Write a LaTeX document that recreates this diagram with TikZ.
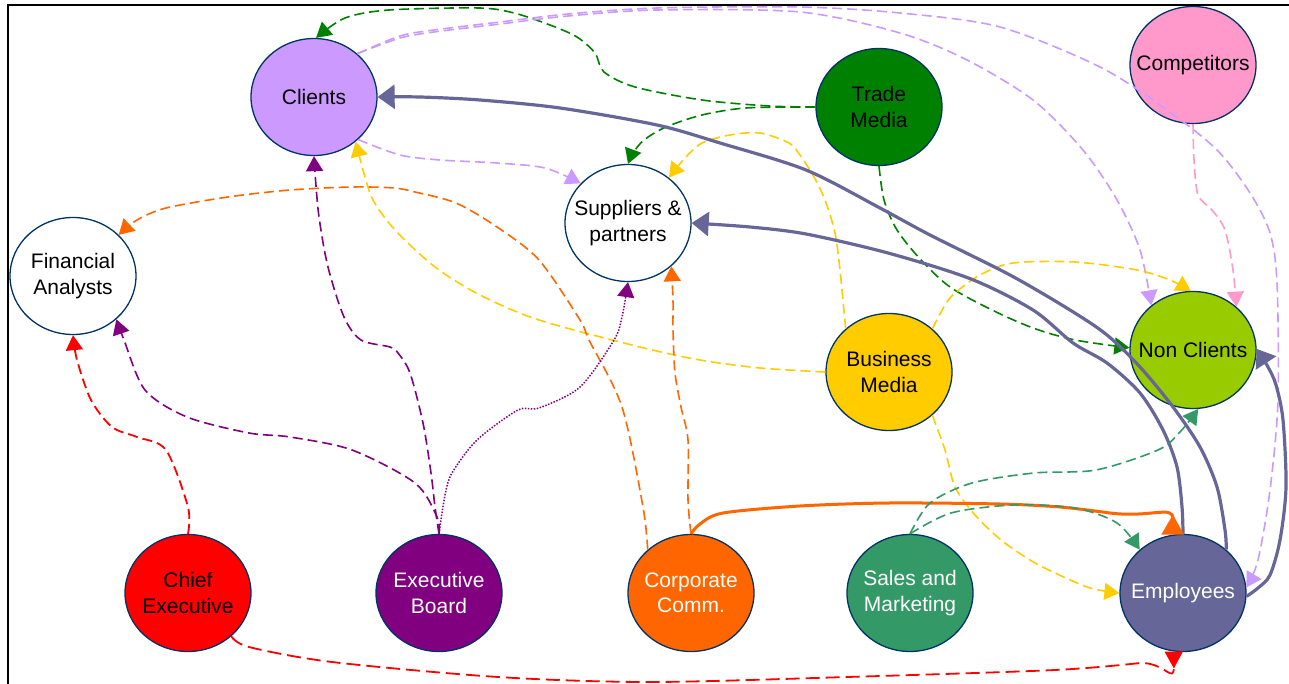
\documentclass[tikz,border=0pt]{standalone}
\usepackage{fontspec}
\setmainfont{Liberation Sans}
\usetikzlibrary{shapes.geometric,arrows.meta}
\definecolor{bordc}{RGB}{0,51,102}
\definecolor{lav}{HTML}{CC99FF}
\definecolor{pinkc}{HTML}{FF99CC}
\definecolor{tmg}{HTML}{008000}
\definecolor{ncg}{HTML}{99CC00}
\definecolor{yel}{HTML}{FFCC00}
\definecolor{navyc}{HTML}{666699}
\definecolor{sea}{HTML}{339966}
\definecolor{orng}{HTML}{FF6600}
\definecolor{purp}{HTML}{800080}
\definecolor{redc}{HTML}{FF0000}
\begin{document}
\begin{tikzpicture}[x=1pt,y=-1pt,
  party/.style={ellipse, draw=bordc, line width=1.3pt, minimum width=126pt, minimum height=117pt, inner xsep=-16pt, inner ysep=0pt, align=center, font=\fontsize{21}{25.5}\selectfont},
  dsh/.style={line width=1.6pt, dash pattern=on 10pt off 5pt, line join=round, -{Triangle[length=15pt,width=17pt]}},
  dotl/.style={line width=1.5pt, dash pattern=on 1.5pt off 1.5pt, -{Triangle[length=15pt,width=17pt]}},
  sol/.style={line width=3.2pt, line join=round, -{Triangle[length=17pt,width=24pt]}},
  solrev/.style={line width=3pt, line join=round, -{Triangle[reversed,length=20pt,width=22pt]}},
  dshrev/.style={line width=1.8pt, dash pattern=on 14pt off 6pt, line join=round, -{Triangle[reversed,length=17pt,width=18pt]}},
  frame/.style={line width=2.2pt, black}
]
\useasboundingbox (0,0) rectangle (1289,684);
\draw[frame] (8,684) -- (8,5) -- (1289,5);

\node[party, fill=lav] (cl) at (314,97) {Clients};
\node[party, fill=white] (fa) at (73,276) {Financial\\Analysts};
\node[party, fill=white] (sp) at (628,223) {Suppliers \&\\partners};
\node[party, fill=tmg] (tm) at (879,107) {Trade\\Media};
\node[party, fill=pinkc] (co) at (1193,65) {Competitors};
\node[party, fill=ncg] (nc) at (1193,350) {Non Clients};
\node[party, fill=yel] (bm) at (889,372) {Business\\Media};
\node[party, fill=navyc, text=white] (em) at (1183,593) {Employees};
\node[party, fill=sea, text=white] (sm) at (910,593) {Sales and\\Marketing};
\node[party, fill=orng, text=white] (cc) at (691,593) {Corporate\\Comm.};
\node[party, fill=purp, text=white] (eb) at (439,593) {Executive\\Board};
\node[party, fill=redc] (ce) at (188,593) {Chief\\Executive};

% Trade Media
\draw[dsh, tmg] plot[smooth] coordinates {(tm.west) (769,106) (702,100) (635,87) (604,72) (595,53) (577,37) (550,25) (514,13) (479,8) (389,10) (345,18) (cl.88)};
\draw[dsh, tmg] plot[smooth] coordinates {(tm.west) (746,108) (702,115) (666,127) (644,140) (633,153) (sp.90)};
\draw[dsh, tmg] plot[smooth] coordinates {(tm.south) (884,200) (897,230) (921,260) (950,287) (992,310) (1033,328) (1075,340) (nc.178)};

% Clients
\draw[dsh, lav] plot[smooth] coordinates {(cl.-44) (400,155) (440,160) (497,163) (545,168) (sp.140)};
\draw[dsh, lav] plot[smooth] coordinates {(cl.45) (400,38) (434,32) (500,24) (568,16) (657,10) (800,12) (900,33) (967,60) (1033,100) (1083,150) (1117,200) (1140,250) (nc.133)};
\draw[dsh, lav] plot[smooth] coordinates {(cl.45) (400,36) (434,30) (500,22) (568,14) (657,8) (800,7) (900,13) (1000,27) (1100,67) (1167,110) (1217,150) (1250,193) (1270,233) (1277,283) (1278,400) (1270,490) (1258,560) (em.5)};

% Competitors
\draw[dsh, pinkc] plot[smooth] coordinates {(co.south) (1194,160) (1198,195) (1212,210) (1225,230) (1233,270) (nc.45)};

% Business Media
\draw[dsh, yel] plot[smooth] coordinates {(bm.west) (760,368) (700,360) (640,347) (539,320) (480,295) (435,267) (395,230) (373,200) (363,170) (cl.-47)};
\draw[dsh, yel] plot[smooth] coordinates {(bm.135) (840,270) (835,233) (825,200) (814,177) (800,155) (789,143) (760,133) (730,135) (702,143) (685,158) (sp.48)};
\draw[dsh, yel] plot[smooth] coordinates {(bm.45) (945,305) (955,293) (980,275) (1013,263) (1075,262) (1137,270) (1170,280) (nc.92)};
\draw[dsh, yel] plot[smooth] coordinates {(bm.-45) (945,450) (955,487) (975,515) (1001,540) (1030,560) (1055,573) (1090,588) (em.west)};

% Employees
\draw[sol, navyc] plot[smooth] coordinates {(em.45) (1225,530) (1217,487) (1200,447) (1173,407) (1140,367) (1107,335) (1070,310) (1010,275) (930,235) (880,208) (806,170) (720,143) (657,125) (560,108) (480,100) (420,97) (cl.east)};
\draw[sol, navyc] plot[smooth] coordinates {(em.90) (1182,507) (1177,467) (1163,430) (1140,393) (1107,363) (1073,343) (1033,310) (971,279) (888,253) (806,234) (750,227) (sp.east)};
\draw[sol, navyc] plot[smooth] coordinates {(em.-3) (1258,588) (1270,575) (1280,540) (1286,487) (1283,420) (1276,385) (1268,367) (nc.1)};

% Corporate Comm.
\draw[solrev, orng] plot[smooth] coordinates {(cc.north) (700,524) (723,513) (800,506) (889,503) (1000,504) (1060,507) (1110,513)} .. controls (1150,518) and (1173,505) .. (em.100);
\draw[dsh, orng] plot[smooth] coordinates {(cc.north) (688,500) (688,440) (681,407) (675,373) (673,330) (673,300) (sp.-45)};
\draw[dsh, orng] plot[smooth] coordinates {(cc.135) (643,507) (622,407) (589,340) (580,320) (539,260) (497,227) (456,203) (415,192) (394,188) (352,187) (290,190) (228,197) (166,208) (137,220) (fa.42)};

% Executive Board
\draw[dsh, purp] plot[smooth] coordinates {(eb.north) (435,507) (431,473) (423,423) (410,373) (398,353) (390,347) (361,340) (344,317) (328,267) (319,217) (315,173) (cl.south)};
\draw[dsh, purp] plot[smooth] coordinates {(eb.north) (437,517) (415,483) (352,450) (290,437) (249,433) (187,417) (145,390) (124,340) (fa.-45)};
\draw[dotl, purp] plot[smooth] coordinates {(eb.north) (445,495) (452,473) (477,440) (518,410) (539,408) (580,387) (614,340) (622,317) (sp.-90)};

% Chief Executive
\draw[dsh, redc, line width=1.8pt] plot[smooth] coordinates {(ce.north) (188,507) (166,450) (137,437) (112,427) (91,400) (77,360) (fa.south)};
\draw[dshrev, redc] plot[smooth] coordinates {(ce.-45) (249,647) (332,662) (498,677) (650,682) (847,677) (1055,670) (1140,663)} .. controls (1165,662) and (1174,685) .. (em.-99);

% Sales and Marketing
\draw[dsh, sea] plot[smooth] coordinates {(sm.north) (930,503) (972,483) (1034,473) (1096,470) (1158,450) (1180,432) (nc.-85)};
\draw[dsh, sea] plot[smooth] coordinates {(sm.north) (951,513) (1013,505) (1075,508) (1117,523) (em.135)};
\end{tikzpicture}
\end{document}
